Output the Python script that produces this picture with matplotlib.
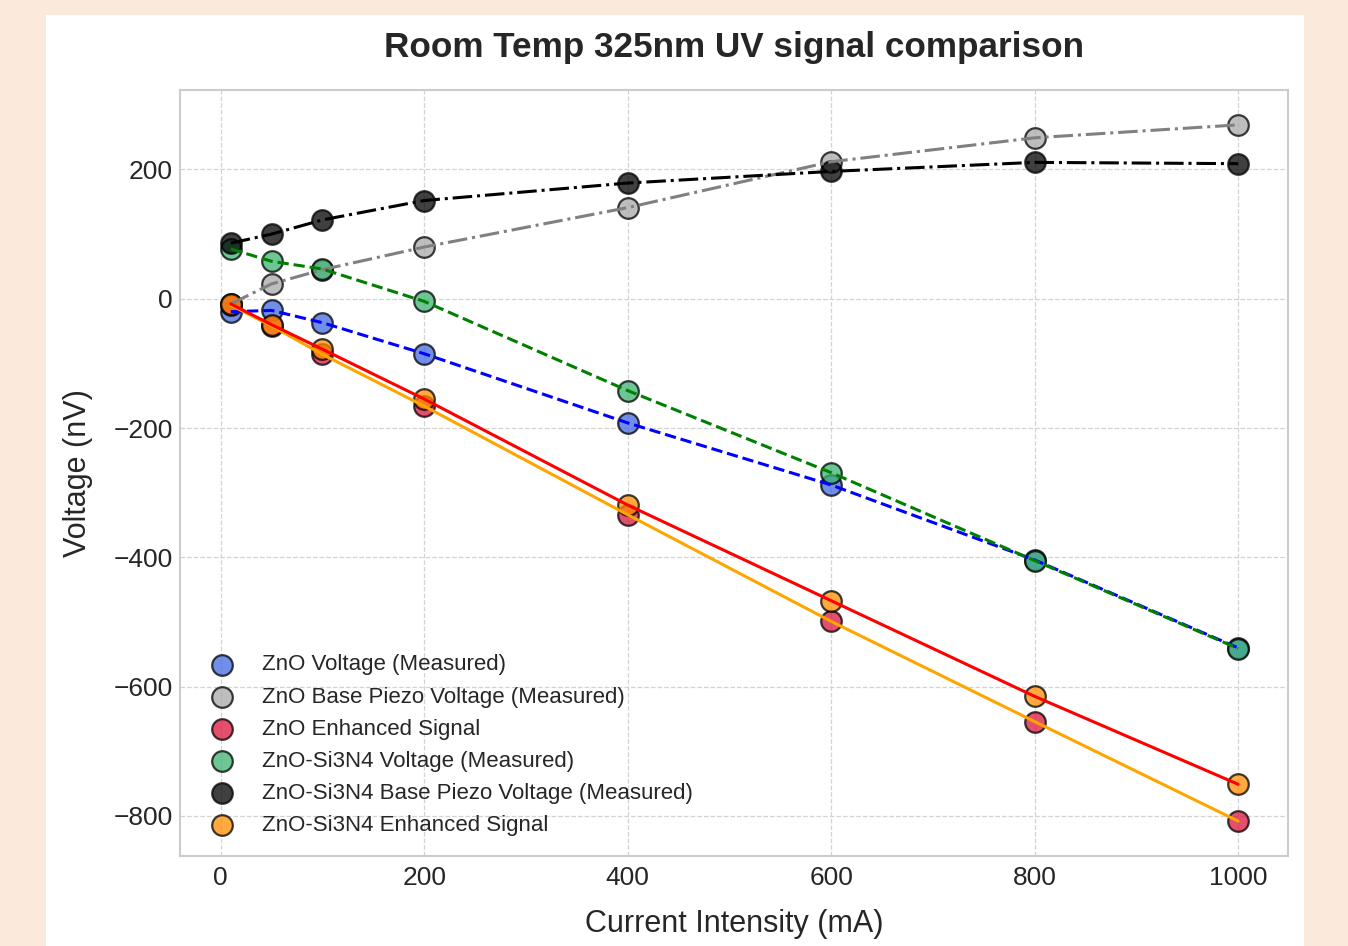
import numpy as np
import matplotlib.pyplot as plt
from matplotlib.patches import Rectangle

# --- Data ---
current_ma = [10, 50, 100, 200, 400, 600, 800, 1000]

zno_voltage = [-20, -18, -37, -85, -192, -288, -404, -540]
zno_base_piezo = [-8, 23, 45, 80, 141, 212, 249, 269]
zno_enhanced = [-10, -42, -86, -166, -334, -499, -654, -808]
si3n4_voltage = [77, 58, 46, -4, -142, -269, -405, -541]
si3n4_base_piezo = [86, 100, 122, 152, 179, 197, 211, 209]
si3n4_enhanced = [-8, -40, -78, -155, -319, -467, -615, -751]

labels = [
    'ZnO Voltage (Measured)',
    'ZnO Base Piezo Voltage (Measured)',
    'ZnO Enhanced Signal',
    'ZnO-Si3N4 Voltage (Measured)',
    'ZnO-Si3N4 Base Piezo Voltage (Measured)',
    'ZnO-Si3N4 Enhanced Signal',
]
series = [zno_voltage, zno_base_piezo, zno_enhanced,
          si3n4_voltage, si3n4_base_piezo, si3n4_enhanced]
marker_colors = ['royalblue', 'darkgray', 'crimson',
                 'mediumseagreen', 'black', 'darkorange']

# --- Style ---
plt.style.use('seaborn-v0_8-whitegrid')
plt.rcParams['font.family'] = ['Liberation Sans', 'DejaVu Sans']

fig = plt.figure(figsize=(13.48, 9.46), dpi=100)
fig.patch.set_facecolor('#fbe9dc')
# white panel behind the chart
fig.patches.append(Rectangle((46 / 1348, 0), 1258 / 1348, 931 / 946,
                             transform=fig.transFigure, facecolor='white',
                             edgecolor='none', zorder=-10))
ax = fig.add_axes([0.1335, 0.0951, 0.822, 0.8098])

for y, c, lab in zip(series, marker_colors, labels):
    ax.scatter(current_ma, y, s=220, color=c, alpha=0.75,
               edgecolors='black', linewidths=1.6, label=lab, zorder=3)

# connecting lines
ax.plot(current_ma, zno_voltage, '--', color='blue', lw=2.2, zorder=4)
ax.plot(current_ma, zno_base_piezo, '-.', color='gray', lw=2.2, zorder=4)
ax.plot(current_ma, zno_enhanced, '-', color='orange', lw=2.2, zorder=4)
ax.plot(current_ma, si3n4_voltage, '--', color='green', lw=2.2, zorder=4)
ax.plot(current_ma, si3n4_base_piezo, '-.', color='black', lw=2.2, zorder=4)
ax.plot(current_ma, si3n4_enhanced, '-', color='red', lw=2.2, zorder=4)

ax.set_xlim(-40, 1049)
ax.set_ylim(-862, 323)
ax.set_xticks([0, 200, 400, 600, 800, 1000])
ax.set_yticks([-800, -600, -400, -200, 0, 200])

ax.grid(True, linestyle='--', color='#d3d3d3', linewidth=0.9)
for sp in ax.spines.values():
    sp.set_visible(True)
    sp.set_color('#cccccc')
    sp.set_linewidth(1.5)

ax.tick_params(labelsize=19, colors='#262626', pad=7)
ax.tick_params(axis='y', pad=5)
ax.set_xlabel('Current Intensity (mA)', fontsize=22, color='#262626', labelpad=14)
ax.set_ylabel('Voltage (nV)', fontsize=22, color='#262626', labelpad=15)
ax.set_title('Room Temp 325nm UV signal comparison', fontsize=25.3,
             fontweight='bold', color='#262626', pad=24)

ax.legend(loc='lower left', fontsize=16, frameon=False)

plt.savefig('out.png', dpi=100, facecolor=fig.get_facecolor())
